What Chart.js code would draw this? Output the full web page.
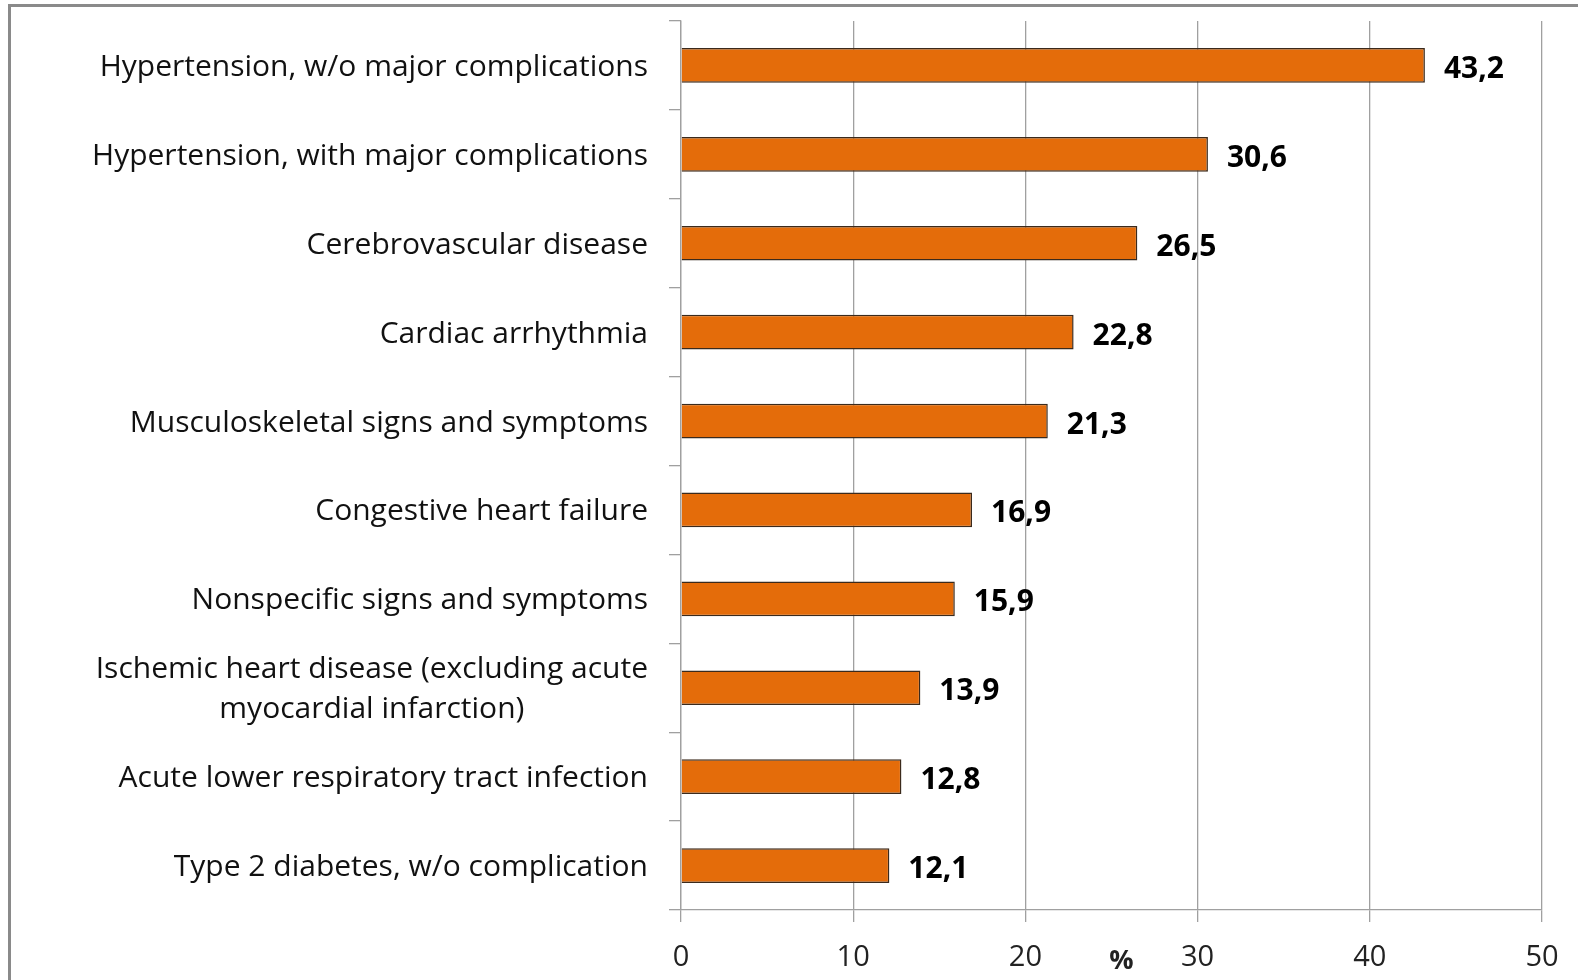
<!DOCTYPE html>
<html>
<head>
<meta charset="utf-8">
<script src="https://cdn.jsdelivr.net/npm/chart.js@4.4.0/dist/chart.umd.min.js"></script>
<style>
  html, body { margin: 0; padding: 0; background: #fff; }
  #wrap { position: relative; width: 1578px; height: 980px; overflow: hidden; }
  #frame { position: absolute; left: 8px; top: 4px; right: -10px; bottom: -10px;
           border-left: 3px solid #8a8a8a; border-top: 3px solid #8a8a8a; }
  canvas { position: absolute; left: 0; top: 0; }
</style>
</head>
<body>
<div id="wrap"><div id="frame"></div><canvas id="chart" width="1578" height="980"></canvas></div>
<script>
var categories = [
  'Hypertension, w/o major complications',
  'Hypertension, with major complications',
  'Cerebrovascular disease',
  'Cardiac arrhythmia',
  'Musculoskeletal signs and symptoms',
  'Congestive heart failure',
  'Nonspecific signs and symptoms',
  ['Ischemic heart disease (excluding acute', 'myocardial infarction)'],
  'Acute lower respiratory tract infection',
  'Type 2 diabetes, w/o complication'
];
var shares = [43.2, 30.6, 26.5, 22.8, 21.3, 16.9, 15.9, 13.9, 12.8, 12.1];
var xTicks = [0, 10, 20, 30, 40, 50];
var axisTitle = '%';

function fmt(v) {
  return v.toFixed(1).replace('.', ',');
}

// value labels next to bars, right-aligned category labels (multi-line ones centred), axis unit
var labelPlugin = {
  id: 'barLabels',
  afterDatasetsDraw: function(chart) {
    var ctx = chart.ctx;
    var xScale = chart.scales.x;
    var yScale = chart.scales.y;
    var meta = chart.getDatasetMeta(0);
    ctx.save();
    ctx.font = 'bold 30px "Open Sans"';
    ctx.fillStyle = '#000';
    ctx.textAlign = 'left';
    ctx.textBaseline = 'middle';
    meta.data.forEach(function(bar, i) {
      ctx.fillText(fmt(shares[i]), bar.x + 19, bar.y + 4);
    });

    ctx.font = '30px "Open Sans"';
    ctx.fillStyle = '#111';
    ctx.textAlign = 'center';
    var right = yScale.right - 33;
    categories.forEach(function(label, i) {
      var lines = [].concat(label);
      var w = Math.max.apply(null, lines.map(function(l) { return ctx.measureText(l).width; }));
      var cx = right - w / 2;
      var y = yScale.getPixelForValue(i) + 2;
      lines.forEach(function(l, j) {
        ctx.fillText(l, cx, y + (j - (lines.length - 1) / 2) * 40);
      });
    });

    ctx.font = 'bold 27px "Open Sans"';
    ctx.fillStyle = '#222';
    ctx.fillText(axisTitle, (xScale.left + xScale.right) / 2 + 10, xScale.bottom - 19);
    ctx.restore();
  }
};

var ctx = document.getElementById('chart');
var myChart = new Chart(ctx, {
  type: 'bar',
  data: {
    labels: categories,
    datasets: [{
      data: shares,
      backgroundColor: '#E46C0A',
      borderColor: '#3b2a1c',
      borderWidth: 1.5,
      barPercentage: 0.39,
      categoryPercentage: 1
    }]
  },
  options: {
    indexAxis: 'y',
    responsive: false,
    animation: false,
    layout: { padding: { left: 0, right: 36, top: 21, bottom: 0 } },
    plugins: { legend: { display: false }, tooltip: { enabled: false } },
    scales: {
      x: {
        min: 0,
        max: 50,
        afterBuildTicks: function(s) {
          s.ticks = xTicks.map(function(v) { return { value: v }; });
        },
        ticks: { color: '#222', font: { family: 'Open Sans', size: 29 }, padding: 18 },
        grid: { color: '#a0a0a0', lineWidth: 1.3, tickLength: 12 },
        border: { color: '#a0a0a0', width: 1.3 },
        afterFit: function(s) { s.height = 70; }
      },
      y: {
        ticks: { display: false },
        grid: { drawOnChartArea: false, color: '#a0a0a0', lineWidth: 1.3, tickLength: 12 },
        border: { color: '#a0a0a0', width: 1.3 },
        afterFit: function(s) { s.width = 681; }
      }
    }
  },
  plugins: [labelPlugin]
});
</script>
</body>
</html>
